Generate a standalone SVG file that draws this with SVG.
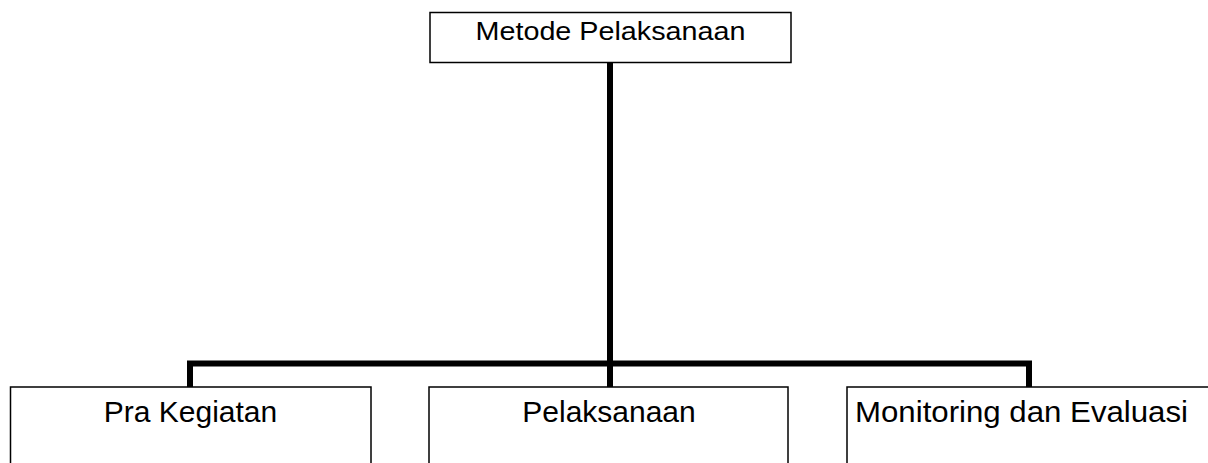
<svg xmlns="http://www.w3.org/2000/svg" width="1208" height="463" viewBox="0 0 1208 463">
<style>
.box{fill:#fff;stroke:#000;stroke-width:1.5}
.conn{fill:none;stroke:#000;stroke-width:6;stroke-linejoin:miter;stroke-linecap:butt}
.t{font-family:"Liberation Sans",Arial,sans-serif;fill:#000}
</style>
<rect width="1208" height="463" fill="#fff"/>
<g id="connectors">
<path class="conn" d="M610 63 V387"/>
<path class="conn" d="M190 387 V363.5 H1029 V387"/>
</g>
<g id="node-metode">
<rect class="box" x="430" y="12.5" width="361" height="50"/>
<text class="t" x="610.5" y="40" font-size="25" text-anchor="middle" textLength="270" lengthAdjust="spacingAndGlyphs">Metode Pelaksanaan</text>
</g>
<g id="node-pra">
<rect class="box" x="10.5" y="387" width="360.5" height="100"/>
<text class="t" x="190.5" y="422" font-size="30" text-anchor="middle">Pra Kegiatan</text>
</g>
<g id="node-pelaksanaan">
<rect class="box" x="429" y="387" width="359" height="100"/>
<text class="t" x="609" y="422" font-size="30" text-anchor="middle">Pelaksanaan</text>
</g>
<g id="node-monev">
<rect class="box" x="847" y="387" width="380" height="100"/>
<text class="t" x="855" y="422" font-size="30" textLength="333" lengthAdjust="spacingAndGlyphs">Monitoring dan Evaluasi</text>
</g>
</svg>
